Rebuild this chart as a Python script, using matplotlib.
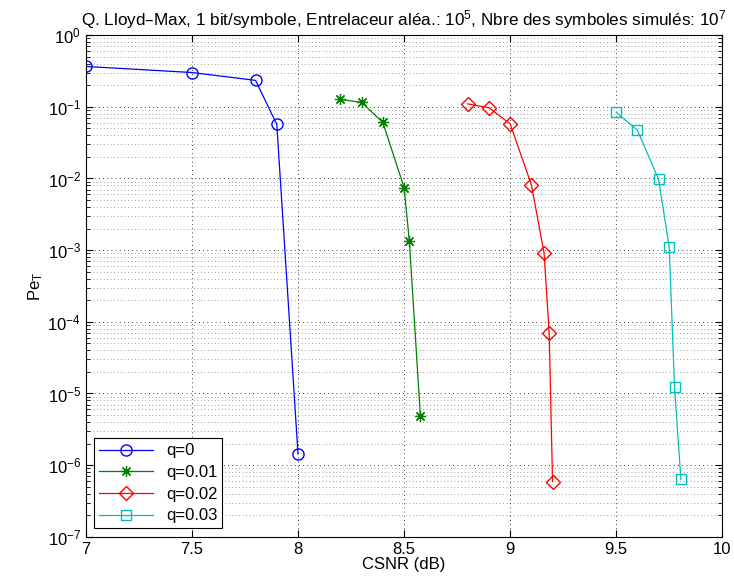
import matplotlib
matplotlib.use("Agg")
import matplotlib.pyplot as plt
from matplotlib.ticker import LogLocator, NullFormatter

plt.rcParams["font.family"] = ["Liberation Sans", "DejaVu Sans"]
plt.rcParams["mathtext.default"] = "regular"

# CSNR (dB) and Pe_T for each q
x_q0 = [7.0, 7.5, 7.8, 7.9, 8.0]
pe_q0 = [0.366, 0.301, 0.234, 0.0568, 1.44e-6]

x_q1 = [8.2, 8.3, 8.4, 8.5, 8.525, 8.577]
pe_q1 = [0.127, 0.115, 0.0605, 0.00748, 0.00133, 4.8e-6]

x_q2 = [8.8, 8.9, 9.0, 9.1, 9.16, 9.184, 9.2]
pe_q2 = [0.11, 0.097, 0.058, 0.0082, 9.1e-4, 7.0e-5, 5.9e-7]

x_q3 = [9.5, 9.6, 9.7, 9.75, 9.775, 9.805]
pe_q3 = [0.0835, 0.0473, 0.0097, 0.0011, 1.22e-5, 6.3e-7]

labels = ["q=0", "q=0.01", "q=0.02", "q=0.03"]
xticks = [7, 7.5, 8, 8.5, 9, 9.5, 10]
xtick_labels = ["7", "7.5", "8", "8.5", "9", "9.5", "10"]


def main() -> None:
    fig = plt.figure(figsize=(7.34, 5.86), dpi=100)
    ax = fig.add_axes([0.117, 0.084, 0.867, 0.856])

    ax.semilogy(x_q0, pe_q0, color=(0, 0, 1), marker="o", markersize=8,
                markerfacecolor="none", linewidth=0.9, label=labels[0])
    ax.semilogy(x_q1, pe_q1, color=(0, 0.5, 0), marker=(8, 2, 0), markersize=8,
                markeredgewidth=0.9, linewidth=0.9, label=labels[1])
    ax.semilogy(x_q2, pe_q2, color=(1, 0, 0), marker="D", markersize=7,
                markerfacecolor="none", linewidth=0.9, label=labels[2])
    ax.semilogy(x_q3, pe_q3, color=(0, 0.75, 0.75), marker="s", markersize=7,
                markerfacecolor="none", linewidth=0.9, label=labels[3])

    ax.set_xlim(7, 10)
    ax.set_ylim(1e-7, 1)
    ax.set_xticks(xticks)
    ax.set_xticklabels(xtick_labels)
    ax.yaxis.set_major_locator(LogLocator(base=10, numticks=10))
    ax.yaxis.set_minor_locator(LogLocator(base=10, subs=range(2, 10), numticks=100))
    ax.yaxis.set_minor_formatter(NullFormatter())

    dots = (0, (1, 4))
    ax.grid(True, which="major", linestyle=dots, color="black", linewidth=0.6)
    ax.grid(True, which="minor", axis="y", linestyle=dots, color="black",
            linewidth=0.5, alpha=0.7)
    ax.tick_params(which="both", direction="in", top=True, right=True, labelsize=12)
    ax.tick_params(which="major", length=5)
    ax.tick_params(which="minor", length=3)
    for spine in ax.spines.values():
        spine.set_linewidth(0.8)

    ax.set_xlabel("CSNR (dB)", fontsize=12, labelpad=0)
    ax.set_ylabel("$Pe_T$", fontsize=12, labelpad=2)
    ax.set_title("Q. Lloyd\u2013Max, 1 bit/symbole, Entrelaceur aléa.: 10$^5$, "
                 "Nbre des symboles simulés: 10$^7$", fontsize=12.3, pad=7)

    leg = ax.legend(loc="lower left", fontsize=12, fancybox=False, framealpha=1,
                    edgecolor="black", handlelength=3.2, borderaxespad=0.5,
                    labelspacing=0.4, borderpad=0.3)
    leg.get_frame().set_linewidth(0.8)

    fig.savefig("out.png", dpi=100)
    plt.close(fig)


if __name__ == "__main__":
    main()
